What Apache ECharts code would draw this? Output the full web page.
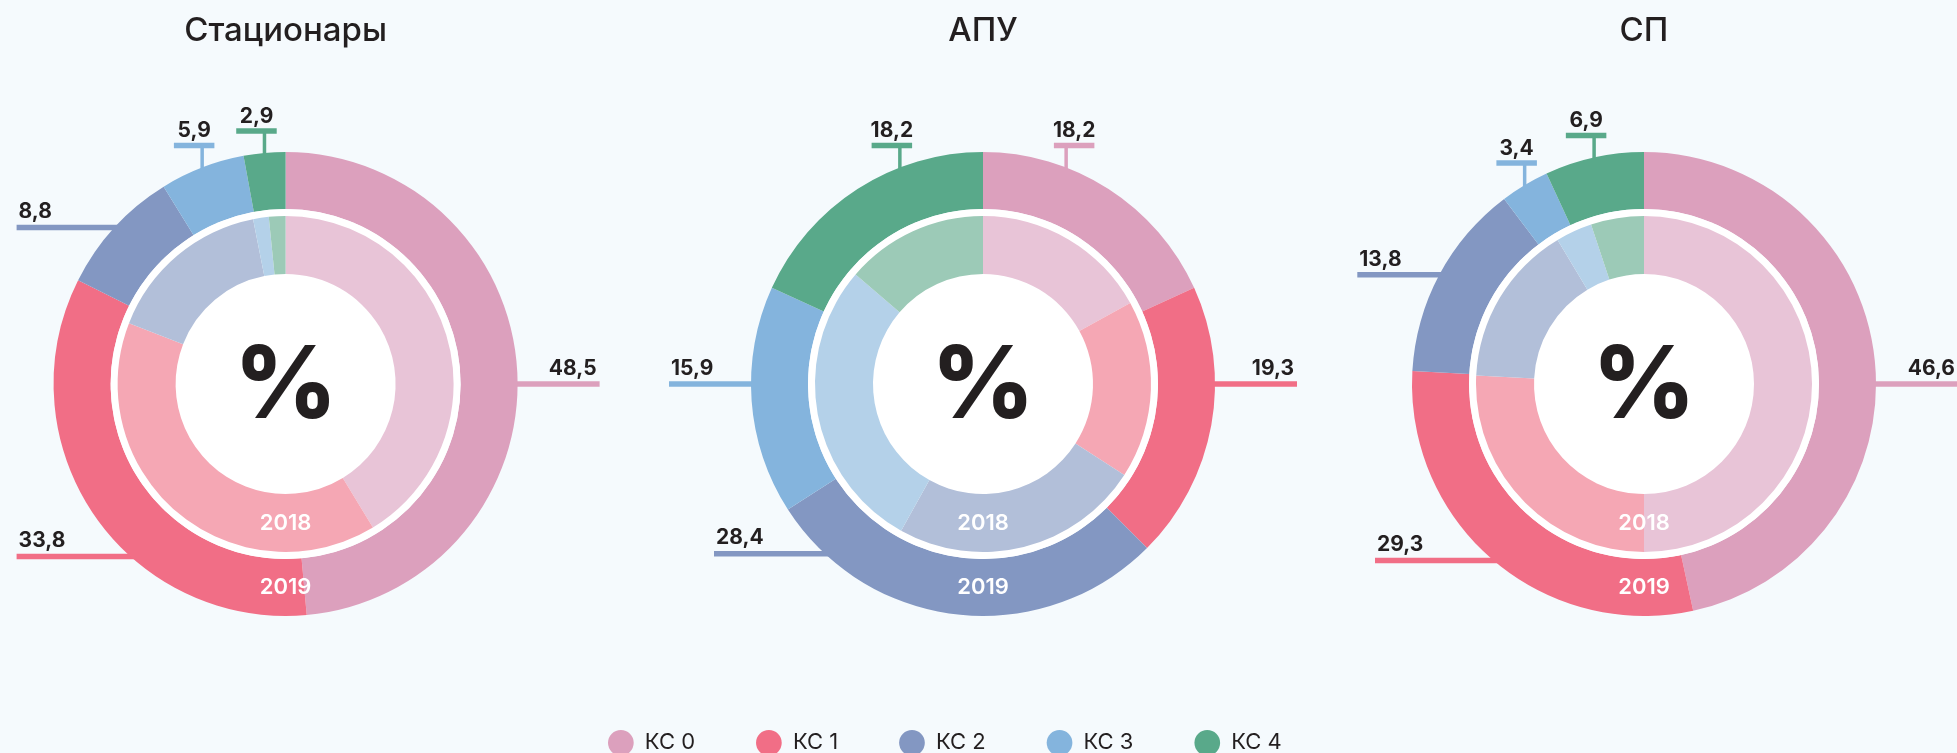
<html>
<head>
<meta charset="UTF-8">
<style>
html, body { margin: 0; padding: 0; background: #f5fafd; }
#container { width: 1957px; height: 753px; }
</style>
</head>
<body>
<div id="container"></div>
<script src="https://cdn.jsdelivr.net/npm/echarts@6/dist/echarts.min.js"></script>
<script>
var categories = ['КС 0', 'КС 1', 'КС 2', 'КС 3', 'КС 4'];
var groups = ['Стационары', 'АПУ', 'СП'];
var yearLabels = ['2018', '2019'];

// 2019, outer ring
var stat2019 = [48.5, 33.8, 8.8, 5.9, 2.9];
var apu2019 = [18.2, 19.3, 28.4, 15.9, 18.2];
var sp2019 = [46.6, 29.3, 13.8, 3.4, 6.9];

// 2018, inner ring (no numbers in the picture, read off the angles)
var stat2018 = [41.3, 39.6, 16.0, 1.5, 1.6];
var apu2018 = [17.0, 17.1, 24.0, 28.2, 13.7];
var sp2018 = [50.0, 25.8, 15.6, 3.5, 5.1];

var colors2019 = ['#dca0bd', '#f16e86', '#8397c2', '#84b4dd', '#59a98a'];
var colors2018 = ['#e8c4d7', '#f5a7b4', '#b2bfd9', '#b4d1e9', '#9ccab7'];

// layout
var centersX = [285.6, 983, 1644];
var centerY = 384;
var rOuter = [175, 232];
var rInner = [110, 168];
// where each leader line leaves the ring, degrees clockwise from top (null = middle of the slice)
var labelAt = [
    [90, 222, null, null, null],
    [21, 90, 223, 270, 339],
    [90, null, null, null, null]
];

var font = 'Inter, "Noto Sans", sans-serif';
var ink = '#231f20';

function anchorAngle(ci, i, values) {
    if (labelAt[ci][i] != null) return labelAt[ci][i];
    var total = 0, before = 0;
    for (var k = 0; k < values.length; k++) {
        total += values[k];
        if (k < i) before += values[k];
    }
    return (before + values[i] / 2) / total * 360;
}

function isTop(ang) {
    return Math.min(ang, 360 - ang) < 45;
}

function outerData(ci, values) {
    return values.map(function (v, i) {
        var top = isTop(anchorAngle(ci, i, values));
        var txt = v.toFixed(1).replace('.', ',');
        return {
            name: categories[i],
            value: v,
            itemStyle: { color: colors2019[i] },
            label: {
                formatter: top ? '{v|' + txt + '}\n{bar|}' : '{v|' + txt + '}',
                rich: {
                    v: { fontFamily: font, fontSize: 21, fontWeight: 700, color: ink, lineHeight: 24 },
                    bar: { width: 40.5, height: 5.5, lineHeight: 5.5, backgroundColor: colors2019[i] }
                }
            },
            labelLine: { lineStyle: { color: colors2019[i], width: top ? 3.5 : 5.5 } }
        };
    });
}

function innerData(values) {
    return values.map(function (v, i) {
        return { name: categories[i], value: v, itemStyle: { color: colors2018[i] } };
    });
}

function makeLayout(ci, values) {
    var cx = centersX[ci], R = rOuter[1];
    return function (p) {
        var ang = anchorAngle(ci, p.dataIndex, values);
        var rad = ang * Math.PI / 180;
        var x0 = cx + R * Math.sin(rad);
        var y0 = centerY - R * Math.cos(rad);
        var left = x0 < cx;
        if (isTop(ang)) {
            var barY = y0 - 22;
            return {
                x: x0 + (left ? -8 : 8),
                y: barY + 2.75,
                align: 'center',
                verticalAlign: 'bottom',
                labelLinePoints: [[x0, y0 + 4], [x0, barY]]
            };
        }
        var xEnd = left ? Math.min(x0 - 82, cx - 269) : Math.max(x0 + 82, cx + 269);
        return {
            x: left ? xEnd + 2 : xEnd - 3,
            y: y0 - 3.5,
            align: left ? 'left' : 'right',
            verticalAlign: 'bottom',
            labelLinePoints: [[x0 + (left ? 6 : -6), y0], [xEnd, y0]]
        };
    };
}

var outerSets = [stat2019, apu2019, sp2019];
var innerSets = [stat2018, apu2018, sp2018];

var series = [];
var graphics = [];
for (var ci = 0; ci < groups.length; ci++) {
    var center = [centersX[ci], centerY];
    series.push({
        type: 'pie',
        name: groups[ci] + ' 2019',
        center: center,
        radius: rOuter,
        startAngle: 90,
        avoidLabelOverlap: false,
        emphasis: { disabled: true },
        itemStyle: { borderWidth: 0 },
        label: { show: true, position: 'outside' },
        labelLine: { show: true, length: 10, length2: 10, smooth: false },
        labelLayout: makeLayout(ci, outerSets[ci]),
        data: outerData(ci, outerSets[ci])
    });
    series.push({
        type: 'pie',
        name: 'white',
        center: center,
        radius: [0, rOuter[0]],
        silent: true,
        emphasis: { disabled: true },
        label: { show: false },
        labelLine: { show: false },
        itemStyle: { borderWidth: 0 },
        data: [{ name: '', value: 1, itemStyle: { color: '#ffffff' } }]
    });
    series.push({
        type: 'pie',
        name: groups[ci] + ' 2018',
        center: center,
        radius: rInner,
        startAngle: 90,
        emphasis: { disabled: true },
        itemStyle: { borderWidth: 0 },
        label: { show: false },
        labelLine: { show: false },
        data: innerData(innerSets[ci])
    });

    graphics.push({
        type: 'text', x: centersX[ci], y: 31, z: 10,
        style: { text: groups[ci], fill: ink, font: '500 33px ' + font, textAlign: 'center', textVerticalAlign: 'middle' }
    });
    graphics.push({
        type: 'text', x: centersX[ci], y: centerY + 4, z: 10,
        style: { text: '%', fill: ink, font: '800 100px ' + font, textAlign: 'center', textVerticalAlign: 'middle' }
    });
    graphics.push({
        type: 'text', x: centersX[ci], y: centerY + (rInner[0] + rInner[1]) / 2, z: 10,
        style: { text: yearLabels[0], fill: '#ffffff', font: '600 22px ' + font, textAlign: 'center', textVerticalAlign: 'middle' }
    });
    graphics.push({
        type: 'text', x: centersX[ci], y: centerY + (rOuter[0] + rOuter[1]) / 2, z: 10,
        style: { text: yearLabels[1], fill: '#ffffff', font: '600 22px ' + font, textAlign: 'center', textVerticalAlign: 'middle' }
    });
}

var myChart = echarts.init(document.getElementById('container'));
myChart.setOption({
    backgroundColor: '#f5fafd',
    animation: false,
    legend: {
        data: categories,
        left: 608,
        top: 730,
        padding: 0,
        icon: 'circle',
        itemWidth: 38,
        itemHeight: 25.7,
        itemGap: 61,
        selectedMode: false,
        formatter: '{t|{name}}',
        textStyle: {
            fontFamily: font, fontSize: 22, color: ink,
            rich: { t: { fontFamily: font, fontSize: 22, color: ink, width: 48 } }
        }
    },
    graphic: graphics,
    series: series
});
</script>
</body>
</html>
